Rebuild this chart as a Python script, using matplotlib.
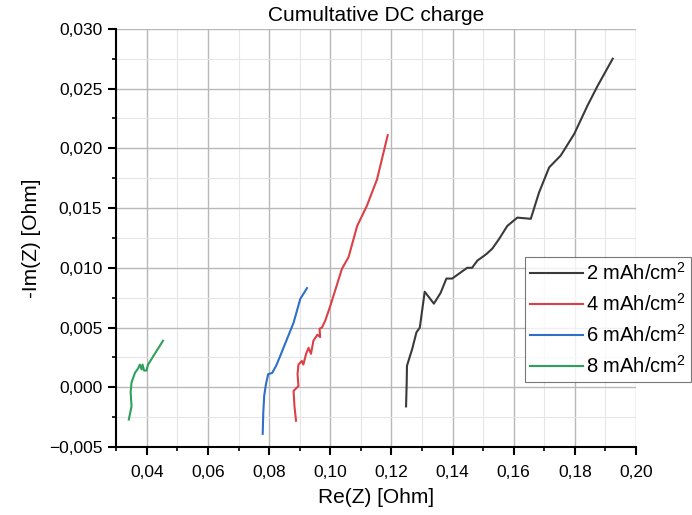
import numpy as np
import matplotlib
matplotlib.use('Agg')
import matplotlib.pyplot as plt
from matplotlib.ticker import MultipleLocator, FuncFormatter

# Nyquist data (Re(Z), -Im(Z)) in Ohm
re_2 = [0.1248, 0.1250, 0.1251, 0.1268, 0.1282, 0.1293, 0.1309, 0.1339, 0.1361, 0.1380,
        0.1399, 0.1426, 0.1448, 0.1464, 0.1481, 0.1503, 0.1513, 0.1530, 0.1552, 0.1579,
        0.1612, 0.1656, 0.1683, 0.1716, 0.1754, 0.1798, 0.1842, 0.1874, 0.1924]
im_2 = [-0.0016, 0.0003, 0.0018, 0.0032, 0.0046, 0.0050, 0.0080, 0.0070, 0.0079, 0.0091,
        0.0091, 0.0096, 0.0100, 0.0100, 0.0106, 0.0110, 0.0112, 0.0116, 0.0124, 0.0135,
        0.0142, 0.0141, 0.0163, 0.0184, 0.0194, 0.0212, 0.0236, 0.0252, 0.0275]

re_4 = [0.0888, 0.0883, 0.0880, 0.0896, 0.0893, 0.0896, 0.0907, 0.0912, 0.0921, 0.0929,
        0.0937, 0.0945, 0.0958, 0.0967, 0.0965, 0.0973, 0.0984, 0.1000, 0.1016, 0.1038,
        0.1060, 0.1088, 0.1120, 0.1153, 0.1188]
im_4 = [-0.0028, -0.0016, -0.0003, 0.0001, 0.0011, 0.0019, 0.0022, 0.0019, 0.0028, 0.0033,
        0.0028, 0.0039, 0.0044, 0.0042, 0.0049, 0.0050, 0.0056, 0.0068, 0.0081, 0.0099,
        0.0109, 0.0135, 0.0152, 0.0174, 0.0211]

re_6 = [0.0779, 0.0781, 0.0784, 0.0790, 0.0797, 0.0810, 0.0823, 0.0836, 0.0858, 0.0880,
        0.0902, 0.0924]
im_6 = [-0.0039, -0.0021, -0.0007, 0.0003, 0.0011, 0.0012, 0.0018, 0.0026, 0.0040, 0.0054,
        0.0074, 0.0083]

re_8 = [0.0341, 0.0350, 0.0347, 0.0350, 0.0361, 0.0372, 0.0377, 0.0383, 0.0386, 0.0391,
        0.0399, 0.0404, 0.0426, 0.0453]
im_8 = [-0.0027, -0.0016, -0.0004, 0.0004, 0.0012, 0.0016, 0.0019, 0.0015, 0.0019, 0.0014,
        0.0014, 0.0019, 0.0028, 0.0039]

labels = ['2 mAh/cm$^2$', '4 mAh/cm$^2$', '6 mAh/cm$^2$', '8 mAh/cm$^2$']
colors = ['#3a3a3a', '#dc3f45', '#2e6fc7', '#2ea05c']

plt.rcParams['font.family'] = ['Liberation Sans', 'DejaVu Sans']
plt.rcParams['mathtext.fontset'] = 'custom'
plt.rcParams['mathtext.rm'] = 'Liberation Sans'

fig = plt.figure(figsize=(6.92, 5.15), dpi=100)
ax = fig.add_axes([0.168, 0.132, 0.751, 0.812])

for xs, ys, lab, c in zip([re_2, re_4, re_6, re_8], [im_2, im_4, im_6, im_8], labels, colors):
    ax.plot(xs, ys, color=c, lw=1.5, label=lab)

ax.set_xlim(0.03, 0.20)
ax.set_ylim(-0.005, 0.030)

ax.xaxis.set_major_locator(MultipleLocator(0.02))
ax.xaxis.set_minor_locator(MultipleLocator(0.01))
ax.yaxis.set_major_locator(MultipleLocator(0.005))
ax.yaxis.set_minor_locator(MultipleLocator(0.0025))

ax.xaxis.set_major_formatter(FuncFormatter(lambda v, p: ('%.2f' % v).replace('.', ',')))
ax.yaxis.set_major_formatter(FuncFormatter(lambda v, p: ('%.3f' % v).replace('.', ',').replace('-', '\u2212')))

ax.grid(which='major', color='#b8b8b8', lw=1.0)
ax.grid(which='minor', color='#e6e6e6', lw=0.8)
ax.set_axisbelow(True)

for s in ['top', 'right']:
    ax.spines[s].set_visible(False)
for s in ['left', 'bottom']:
    ax.spines[s].set_linewidth(1.5)

ax.tick_params(which='major', direction='out', length=6, width=1.5, labelsize=12.5)
ax.tick_params(which='minor', direction='out', length=3, width=1.2)
ax.tick_params(axis='x', pad=7)
ax.tick_params(axis='y', pad=4)

ax.set_xlabel('Re(Z) [Ohm]', fontsize=15, labelpad=6)
ax.set_ylabel('-Im(Z) [Ohm]', fontsize=15, labelpad=6)
ax.set_title('Cumultative DC charge', fontsize=15, pad=6)

leg = ax.legend(loc='upper left', bbox_to_anchor=(0.759, 0.501), bbox_transform=fig.transFigure,
                fontsize=14.5, frameon=True, fancybox=False, edgecolor='#555555',
                handlelength=2.6, handletextpad=0.15, borderpad=0.25, labelspacing=0.45,
                borderaxespad=0)
leg.get_frame().set_linewidth(0.8)

fig.savefig('out.png', dpi=100)
